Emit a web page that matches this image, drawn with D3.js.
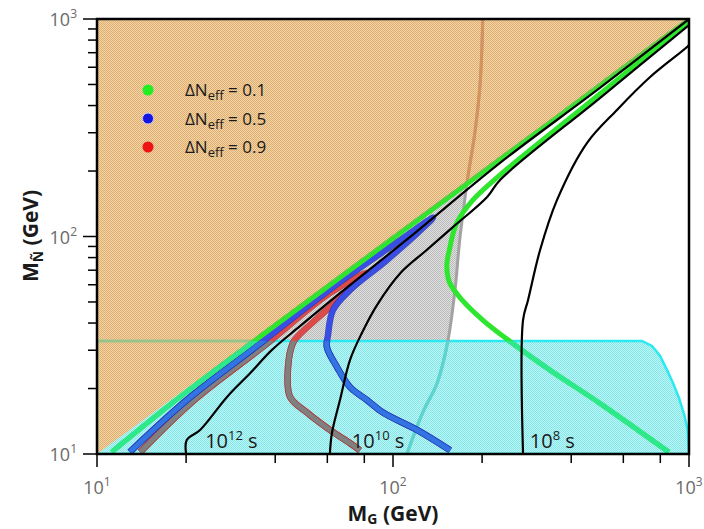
<!DOCTYPE html>
<html>
<head>
<meta charset="utf-8">
<script src="https://cdn.jsdelivr.net/npm/d3@7"></script>
<style>
body { margin: 0; background: #fff; }
svg { display: block; font-family: "Open Sans", "Noto Sans", sans-serif; }
</style>
</head>
<body>
<svg id="chart" width="704" height="529"></svg>
<script>
// axis ticks (GeV)
const xMajor = [10, 100, 1000];
const xMinor = [20, 40, 60, 80, 200, 400, 600, 800];
const yMajor = [10, 100, 1000];
const yMinor = [20, 30, 40, 50, 60, 70, 80, 90, 200, 300, 400, 500, 600, 700, 800, 900];

// excluded regions
const orangeMG = [10, 10, 1000];
const orangeMN = [10, 1000, 1000];
const cyanMG = [10, 693, 750, 798, 843, 883, 925, 962, 990, 1000, 10];
const cyanMN = [33.1, 33.1, 31.4, 28.3, 24.3, 21.2, 18.1, 15.3, 12.9, 10, 10];
const grayMG = [10, 174, 176.6, 168, 162, 153, 141, 126, 111.4];
const grayMN = [10, 174, 164, 96.4, 56.8, 32.7, 21.2, 15.5, 10];

// boundary line of the gray region (orange above the diagonal)
const edgeMG = [201, 197, 189, 179, 176.6, 168, 162, 153, 141, 126, 111.4];
const edgeMN = [1000, 508, 299, 188, 164, 96.4, 56.8, 32.7, 21.2, 15.5, 10];

// Delta N_eff contours
const greenMG = [11.2, 18.5, 32.9, 106, 300, 1000, 500, 230, 186, 164, 155, 152, 155, 171, 201, 248, 339, 500, 855];
const greenMN = [10.2, 17.7, 32.0, 104, 295, 985, 452, 192, 147, 115, 86.7, 74.0, 61.8, 51.1, 41.3, 33.0, 24.3, 17.1, 10.2];
const blueMG = [12.9, 20.1, 35.0, 66.2, 106, 136.5, 95.4, 71.6, 62.7, 60.3, 59.8, 64.7, 71.6, 81.7, 92.5, 120.5, 156];
const blueMN = [10.2, 17.7, 31.7, 61.8, 96.4, 122, 78, 56.8, 45.9, 35.2, 31.0, 25.1, 20.3, 17.7, 15.5, 12.9, 10.4];
const redMG = [14.0, 21.3, 37.0, 61.2, 81.7, 61.2, 47.4, 45.9, 44.2, 44.9, 51.2, 61.2, 71.6, 77.4];
const redMN = [10.2, 17.7, 31.7, 54.9, 68.0, 47.4, 34.5, 32.4, 25.1, 18.3, 15.5, 12.9, 11.2, 10.4];

// lifetime contours
const t12MG = [20.0, 20.1, 22.3, 27.5, 32.9, 39.0, 48.5, 66.2, 111, 230, 500, 1000];
const t12MN = [10, 11.6, 12.9, 18.3, 23.5, 30.1, 38.7, 54.9, 96.4, 218, 482, 1000];
const t10MG = [61.2, 62.2, 66.2, 71.6, 78.5, 88.3, 106, 130, 160, 208, 230, 500, 1000];
const t10MN = [10, 12.5, 17.7, 27.1, 36.0, 48.4, 68.0, 86.7, 111, 152, 182, 433, 938];
const t8MG = [275, 275, 286, 314, 358, 452, 571, 739, 985, 1000];
const t8MN = [10, 41.3, 51.1, 86.7, 147, 269, 382, 541, 743, 760];

const legendLabels = ["0.1", "0.5", "0.9"];
const legendColors = ["#22ee22", "#1515e0", "#ee1515"];
const lifetimeLabels = [{exp: "12", mg: 23.2}, {exp: "10", mg: 72.6}, {exp: "8", mg: 290}];

const svg = d3.select("#chart");
const x = d3.scaleLog().domain([10, 1000]).range([97, 689]);
const y = d3.scaleLog().domain([10, 1000]).range([454, 19]);
const pts = (a, b) => d3.zip(a, b);
const poly = d3.line().x(d => x(d[0])).y(d => y(d[1])).curve(d3.curveLinearClosed);
const smooth = d3.line().x(d => x(d[0])).y(d => y(d[1])).curve(d3.curveCatmullRom.alpha(0.5));

const defs = svg.append("defs");
function checker(id, c1, c2) {
    const p = defs.append("pattern").attr("id", id)
        .attr("width", 2).attr("height", 2).attr("patternUnits", "userSpaceOnUse");
    p.append("rect").attr("width", 2).attr("height", 2).attr("fill", c1);
    p.append("rect").attr("width", 1).attr("height", 1).attr("fill", c2);
    p.append("rect").attr("x", 1).attr("y", 1).attr("width", 1).attr("height", 1).attr("fill", c2);
}
checker("hatchOrange", "#f2d6a8", "#e0ad70");
checker("hatchCyan", "#c0f6f6", "#80e6e8");
checker("hatchGray", "#e2e2e2", "#b8b8b8");

defs.append("clipPath").attr("id", "clipPlot").append("rect")
    .attr("x", x(10)).attr("y", y(1000)).attr("width", x(1000) - x(10)).attr("height", y(10) - y(1000));
defs.append("clipPath").attr("id", "clipOrange").append("path").attr("d", poly(pts(orangeMG, orangeMN)));
defs.append("clipPath").attr("id", "clipCyan").append("path").attr("d", poly(pts(cyanMG, cyanMN)));

const plot = svg.append("g").attr("clip-path", "url(#clipPlot)");

// regions
plot.append("path").attr("d", poly(pts(grayMG, grayMN))).attr("fill", "url(#hatchGray)");
plot.append("path").attr("d", poly(pts(cyanMG, cyanMN))).attr("fill", "url(#hatchCyan)")
    .attr("stroke", "#2ce8f0").attr("stroke-width", 2.5);
plot.append("path").attr("d", poly(pts(orangeMG, orangeMN))).attr("fill", "url(#hatchOrange)");
// cyan top edge seen through the orange
plot.append("g").attr("clip-path", "url(#clipOrange)")
    .append("path").attr("d", poly(pts(cyanMG, cyanMN))).attr("fill", "none")
    .attr("stroke", "#98c48c").attr("stroke-width", 3);

function curve(mg, mn, color, width, cyanColor, orangeColor, outline) {
    const d = smooth(pts(mg, mn));
    const draw = (g, c) => {
        if (outline) {
            g.append("path").attr("d", d).attr("fill", "none").attr("stroke", outline)
                .attr("stroke-width", width + 1.5).attr("stroke-linejoin", "round").attr("opacity", 0.8);
        }
        g.append("path").attr("d", d).attr("fill", "none").attr("stroke", c)
            .attr("stroke-width", width).attr("stroke-linejoin", "round");
    };
    draw(plot, color);
    if (cyanColor) draw(plot.append("g").attr("clip-path", "url(#clipCyan)"), cyanColor);
    if (orangeColor) draw(plot.append("g").attr("clip-path", "url(#clipOrange)"), orangeColor);
}

curve(edgeMG, edgeMN, "#a2a2a2", 3, "#58d6d2", "#d6925a");
curve(redMG, redMN, "#dc4a4a", 5, "#808080", null, "#b03030");
curve(blueMG, blueMN, "#3a4ee6", 5, "#3274e2", null, "#2030b0");
curve(greenMG, greenMN, "#2ee62e", 5, "#2ee88c", "#6cc44c");
curve(t12MG, t12MN, "#000", 2.2);
curve(t10MG, t10MN, "#000", 2.2);
curve(t8MG, t8MN, "#000", 2.2);

// frame
svg.append("rect").attr("x", x(10)).attr("y", y(1000))
    .attr("width", x(1000) - x(10)).attr("height", y(10) - y(1000))
    .attr("fill", "none").attr("stroke", "#000").attr("stroke-width", 2.5);

// ticks
const tickG = svg.append("g").attr("stroke", "#000").attr("stroke-width", 1.5);
xMajor.forEach(v => tickG.append("line").attr("x1", x(v)).attr("x2", x(v)).attr("y1", y(10) + 1).attr("y2", y(10) + 13));
xMinor.forEach(v => tickG.append("line").attr("x1", x(v)).attr("x2", x(v)).attr("y1", y(10) + 1).attr("y2", y(10) + 9));
yMajor.forEach(v => tickG.append("line").attr("y1", y(v)).attr("y2", y(v)).attr("x1", x(10) - 1).attr("x2", x(10) - 14));
yMinor.forEach(v => tickG.append("line").attr("y1", y(v)).attr("y2", y(v)).attr("x1", x(10) - 1).attr("x2", x(10) - 9));

function pow10(g, v, px, py, anchor) {
    const t = g.append("text").attr("x", px).attr("y", py).attr("text-anchor", anchor)
        .attr("fill", "#6a6a6a").style("font-size", "18px");
    t.append("tspan").text("10");
    t.append("tspan").attr("dy", -8).style("font-size", "12px").text(Math.round(Math.log10(v)));
}
xMajor.forEach(v => pow10(svg, v, x(v), 494, "middle"));
yMajor.forEach(v => pow10(svg, v, 77, y(v) + 7, "end"));

// axis titles
const xt = svg.append("text").attr("x", 393).attr("y", 521).attr("text-anchor", "middle")
    .style("font-size", "21px").style("font-weight", "bold").attr("fill", "#1a1a1a");
xt.append("tspan").text("M");
xt.append("tspan").attr("dy", 3).style("font-size", "14px").text("G");
xt.append("tspan").attr("dy", -3).text(" (GeV)");

const yt = svg.append("text").attr("transform", "translate(38,236) rotate(-90)").attr("text-anchor", "middle")
    .style("font-size", "21px").style("font-weight", "bold").attr("fill", "#1a1a1a");
yt.append("tspan").text("M");
yt.append("tspan").attr("dy", 5).style("font-size", "14px").text("Ñ");
yt.append("tspan").attr("dy", -5).text(" (GeV)");

// lifetime labels
lifetimeLabels.forEach(l => {
    const t = svg.append("text").attr("x", x(l.mg)).attr("y", 448).attr("fill", "#1a1a1a").style("font-size", "20px");
    t.append("tspan").text("10");
    t.append("tspan").attr("dy", -8).style("font-size", "13px").text(l.exp);
    t.append("tspan").attr("dy", 8).text(" s");
});

// legend
legendLabels.forEach((lab, i) => {
    const cy = 90 + i * 28.5;
    svg.append("circle").attr("cx", 148).attr("cy", cy).attr("r", 5.5).attr("fill", legendColors[i])
        .attr("stroke", i === 1 ? "#c8c8ff" : "none").attr("stroke-width", 1);
    const t = svg.append("text").attr("x", 185).attr("y", cy + 6).attr("fill", "#1a1a1a").style("font-size", "17px");
    t.append("tspan").text("ΔN");
    t.append("tspan").attr("dy", 4).style("font-size", "13px").text("eff");
    t.append("tspan").attr("dy", -4).text(" = " + lab);
});
</script>
</body>
</html>
